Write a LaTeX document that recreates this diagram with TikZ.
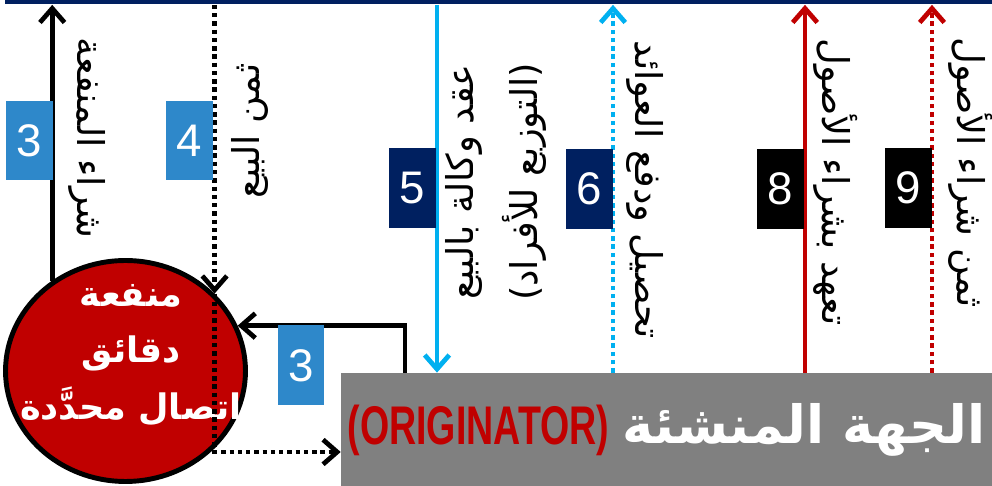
\documentclass[tikz,border=0pt]{standalone}
\usepackage{fontspec}
\setmainfont{Liberation Sans}
\newfontfamily\arabicfont[Script=Arabic]{DejaVu Sans}
\TeXXeTstate=1
\usetikzlibrary{positioning, calc, arrows.meta, shapes.geometric}
\definecolor{navy}{HTML}{002060}
\definecolor{boxblue}{HTML}{2E88CA}
\definecolor{skyline}{HTML}{00B0F0}
\definecolor{darkred}{HTML}{C00000}
\definecolor{origgray}{HTML}{808080}
\tikzset{numbox/.style={rectangle, inner sep=0pt, minimum width=0.94cm, minimum height=1.6cm, text=white, font=\fontsize{26}{26}\selectfont}}
\tikzset{flow/.style={line width=2.7pt, -{Straight Barb[length=8pt, width=14pt]}}}
\tikzset{dotline/.style={dash pattern=on 2.5pt off 2.2pt}}
\tikzset{vlabel/.style={font=\arabicfont\fontsize{21}{36}\selectfont, align=center, inner sep=0pt}}

\begin{document}
\begin{tikzpicture}[x=0.02cm, y=-0.02cm]
  \useasboundingbox (0,0) rectangle (992,486);

  % parties
  \node[fill=navy, inner sep=0pt, minimum width=19.74cm, minimum height=0.09cm] (spv) at (498.5,2.25) {};
  \node[fill=origgray, inner sep=0pt, minimum width=13.02cm, minimum height=2.26cm] (orig) at (666.5,429.5) {};
  \node[ellipse, draw, line width=2.8pt, fill=darkred, inner sep=0pt, minimum width=4.8cm, minimum height=4.42cm] (ben) at (125.5,371) {};

  \node[font=\arabicfont\bfseries\fontsize{20}{32}\selectfont, text=white, align=center] (bentxt) at (131,355)
    {\beginR منفعة\endR\\ \beginR دقائق\endR\\ \beginR اتصال محدَّدة\endR};
  \node[font=\arabicfont\bfseries\fontsize{30}{30}\selectfont, text=white, inner sep=0pt, anchor=east] (origar) at (986,430)
    {\beginR الجهة المنشئة\endR};
  \node[font=\bfseries\fontsize{31}{31}\selectfont, text=darkred, inner sep=0pt] (origen) [left=0.26cm of origar]
    {\scalebox{0.69}[1]{(ORIGINATOR)}};

  \coordinate (x5) at (437,0);
  \coordinate (x6) at (613,0);
  \coordinate (x8) at (805,0);
  \coordinate (x9) at (932,0);
  \coordinate (xfb) at (405,0);

  % flows
  \draw[flow] (ben.129.1) -- (ben.129.1 |- spv.south);
  \draw[flow, dotline] (ben.41.3 |- spv.south) -- (ben.41.3);
  \draw[flow, dotline] (ben.41.3) |- ([yshift=-0.45cm]orig.west);
  \draw[flow] (xfb |- orig.north) |- (ben.22.7);
  \draw[flow, skyline] (x5 |- spv.south) -- (x5 |- orig.north);
  \draw[flow, skyline, dotline] (x6 |- orig.north) -- (x6 |- spv.south);
  \draw[flow, darkred] (x8 |- orig.north) -- (x8 |- spv.south);
  \draw[flow, darkred, dotline] (x9 |- orig.north) -- (x9 |- spv.south);

  % step numbers
  \node[numbox, fill=boxblue, anchor=east] (n3) at (53,140.5) {3};
  \node[numbox, fill=boxblue, anchor=east] (n4) at (213,140.5) {4};
  \node[numbox, fill=boxblue, anchor=north] (n3b) at (301,325) {3};
  \node[numbox, fill=navy, anchor=east] (n5) at (436,188) {5};
  \node[numbox, fill=navy, anchor=east] (n6) at (613,189) {6};
  \node[numbox, fill=black, anchor=east] (n8) at (804,189) {8};
  \node[numbox, fill=black, anchor=east] (n9) at (932,188) {9};

  % flow labels
  \node[vlabel, rotate=-90] (l3) at (87,138) {\beginR شراء المنفعة\endR};
  \node[vlabel, rotate=90] (l4) at (250,131) {\beginR ثمن البيع\endR};
  \node[vlabel, rotate=90] (l5) at (496,182) {\beginR عقد وكالة بالبيع\endR\\ \beginR (التوزيع للأفراد)\endR};
  \node[vlabel, rotate=-90] (l6) at (645,190) {\beginR تحصيل ودفع العوائد\endR};
  \node[vlabel, rotate=-90] (l8) at (836,182) {\beginR تعهد بشراء الأصول\endR};
  \node[vlabel, rotate=-90] (l9) at (971,173) {\beginR ثمن شراء الأصول\endR};
\end{tikzpicture}
\end{document}
